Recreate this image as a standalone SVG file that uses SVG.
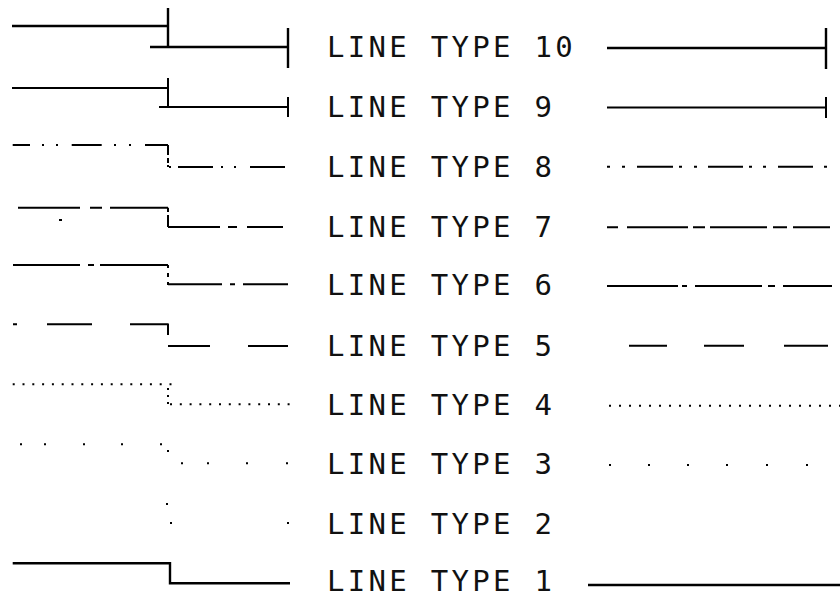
<svg xmlns="http://www.w3.org/2000/svg" width="840" height="598" viewBox="0 0 840 598">
<style>
.ln{fill:none;stroke:#000;stroke-width:2;stroke-linecap:butt}
.thk{stroke-width:2.4}
.lbl{font-family:"DejaVu Sans Mono","Liberation Mono",monospace;font-size:29px;letter-spacing:3.3px;fill:#111}
</style>
<rect width="840" height="598" fill="#fff"/>
<g id="type10">
<path class="ln thk" d="M12 26H168M168 8V47M150 47H288M288 28V68"/>
<text class="lbl" x="327" y="57">LINE TYPE 10</text>
<path class="ln thk" d="M607 48H826M826 28V69"/>
</g>
<g id="type9">
<path class="ln" d="M12 88H168V107M168 78V88M159 107H288M288 97V117"/>
<text class="lbl" x="327" y="117">LINE TYPE 9</text>
<path class="ln" d="M607 107.5H826M826 97V118"/>
</g>
<g id="type8">
<path class="ln" d="M12.7 145H30M42 145h2M56 145h2M71.7 145H101.7M114 145h2M129 145h2M145 145H168M168 145V155M168 158V163M168 165V167M169 167h2M178 167H213M221 167h2M234 167h2M250 167H285"/>
<text class="lbl" x="327" y="177">LINE TYPE 8</text>
<path class="ln" d="M607 166.7h3M622 166.7h3M637 166.7H673M679 166.7h3M694 166.7h3M708 166.7H743M749 166.7h3M763 166.7h3M778 166.7H813M824 166.7h3"/>
</g>
<g id="type7">
<path class="ln" d="M18 207.7H80M90 207.7H102M110 207.7H168M168 207.7V212M168 215V227M59 220h3M168 227H220M228 227H237M247 227H283"/>
<text class="lbl" x="327" y="237">LINE TYPE 7</text>
<path class="ln" d="M607 227.3H618M627 227.3H688M693 227.3H705M710 227.3H767M773 227.3H787M793 227.3H830"/>
</g>
<g id="type6">
<path class="ln" d="M13 265H80M88 265H94M100 265H168M168 265V268M168 273V277M168 282V285M168 284.3H222M230 284.3H235M243 284.3H288"/>
<text class="lbl" x="327" y="295">LINE TYPE 6</text>
<path class="ln" d="M607 286H678M682 286H687M695 286H762M768 286H775M783 286H832"/>
</g>
<g id="type5">
<path class="ln" d="M13 324.3H17M47 324.3H92M130 324.3H168M168 323.5V335M168 346H210M248 346H288"/>
<text class="lbl" x="327" y="356">LINE TYPE 5</text>
<path class="ln" d="M629 345.7H667M704 345.7H744M784 345.7H828"/>
</g>
<g id="type4">
<path class="ln" stroke-dasharray="2 7.8" d="M12.7 384.3H172"/>
<path class="ln" d="M168 388v2M168 395v2M168 402v2"/>
<path class="ln" stroke-dasharray="2 7.8" d="M170 404.3H290"/>
<text class="lbl" x="327" y="415">LINE TYPE 4</text>
<path class="ln" stroke-dasharray="2 8" d="M609 405.7H840"/>
</g>
<g id="type3">
<path class="ln" d="M20 444.3h2M44 444.3h2M83 444.3h2M121 444.3h2M160 444.3h2M168 450v2M181 463.3h2M207 463.3h2M246 463.3h2M286 463.3h2"/>
<text class="lbl" x="327" y="474">LINE TYPE 3</text>
<path class="ln" d="M609 465h2M648 465h2M687 465h2M726 465h2M766 465h2M806 465h2"/>
</g>
<g id="type2">
<path class="ln" d="M166 504h2M170 523h2M287 523h2"/>
<text class="lbl" x="327" y="534">LINE TYPE 2</text>
</g>
<g id="type1">
<path class="ln thk" d="M12.7 563.3H170V583.3H290"/>
<text class="lbl" x="327" y="591">LINE TYPE 1</text>
<path class="ln thk" d="M588 585H840"/>
</g>
</svg>
